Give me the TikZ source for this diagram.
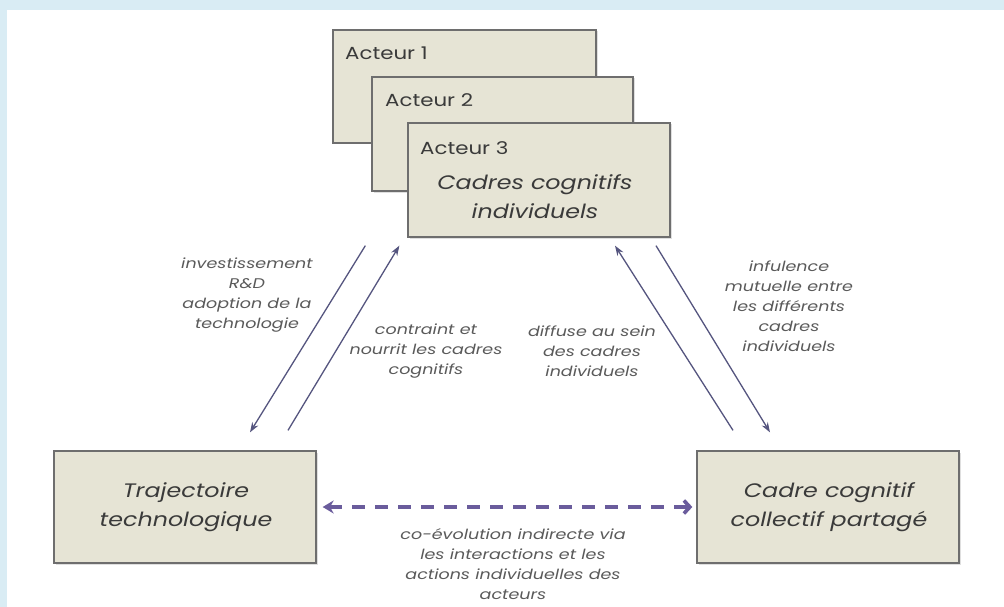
\documentclass[tikz,border=0pt]{standalone}
\usepackage{fontspec}
\setmainfont{Poppins}[FakeStretch=1.22]
\newfontfamily\lblfont{Poppins}[FakeStretch=1.25]
\usetikzlibrary{arrows.meta,calc,shadows}
\definecolor{bgblue}{HTML}{D9ECF4}
\definecolor{boxfill}{HTML}{E6E4D5}
\definecolor{boxline}{HTML}{6E6E6E}
\definecolor{txt}{HTML}{3A3A3A}
\definecolor{lbl}{HTML}{5A5A5A}
\definecolor{arrcol}{HTML}{55557F}
\definecolor{dashcol}{HTML}{6A5C9C}
\tikzset{
  box/.style={draw=boxline, line width=1.3pt, fill=boxfill, inner sep=0pt,
    drop shadow={shadow xshift=1.5pt, shadow yshift=-1.5pt, opacity=0.25}},
  boxtitle/.style={font=\fontsize{19.5}{29}\selectfont\itshape, text=txt, align=center},
  actlabel/.style={font=\fontsize{17.5}{18}\selectfont, text=txt, anchor=west, inner sep=0pt},
  lbltext/.style={font=\lblfont\fontsize{14}{20}\selectfont\itshape, text=lbl, align=center},
  thinarr/.style={draw=arrcol, line width=1.3pt, -{Stealth[length=10pt,width=7pt]}},
  dasharr/.style={draw=dashcol, line width=3.6pt, dash pattern=on 13pt off 10pt,
    {Stealth[length=11pt,width=13pt]}-{Straight Barb[length=6pt,width=13pt]}}
}
\begin{document}
\begin{tikzpicture}[x=1pt,y=-1pt]
\useasboundingbox (0,0) rectangle (1004,607);
\fill[white] (0,0) rectangle (1004,607);
\fill[bgblue] (0,0) rectangle (1004,10);
\fill[bgblue] (0,0) rectangle (7,607);

% actor boxes
\node[box, minimum width=263pt, minimum height=113pt] (a1) at (464.5,86.5) {};
\node[actlabel] (a1t) at (345,53) {Acteur 1};
\node[box, minimum width=261pt, minimum height=114pt] (a2) at (502.5,134) {};
\node[actlabel] (a2t) at (385,100) {Acteur 2};
\node[box, minimum width=262pt, minimum height=114pt] (a3) at (539,180) {};
\node[actlabel] (a3t) at (420,148) {Acteur 3};
\node[boxtitle] (a3c) at (535,197) {Cadres cognitifs\\individuels};

% bottom boxes
\node[box, minimum width=262pt, minimum height=112pt] (traj) at (185,507) {};
\node[boxtitle] (trajt) at (186,507) {Trajectoire\\technologique};
\node[box, minimum width=262pt, minimum height=112pt] (coll) at (828,507) {};
\node[boxtitle] (collt) at (829,507) {Cadre cognitif\\collectif partagé};

% arrows
\draw[thinarr] ($(a3.south west)+(-42,8)$) -- ($(traj.north)+(65,-18)$);
\draw[thinarr] ($(traj.north)+(103,-20)$) -- ($(a3.south west)+(-8,8)$);
\draw[thinarr] ($(coll.north)+(-95,-20)$) -- ($(a3.south)+(76,8)$);
\draw[thinarr] ($(a3.south)+(117,8)$) -- ($(coll.north)+(-58,-18)$);
\draw[dasharr] ($(traj.east)+(6,0)$) -- ($(coll.west)+(-4,0)$);

% labels
\node[lbltext] (l1) at (247,295) {investissement\\R\&D\\adoption de la\\technologie};
\node[lbltext] (l2) at (426,351) {contraint et\\nourrit les cadres\\cognitifs};
\node[lbltext] (l3) at (592,351) {diffuse au sein\\des cadres\\individuels};
\node[lbltext] (l4) at (789,306) {infulence\\mutuelle entre\\les différents\\cadres\\individuels};
\node[lbltext] (l5) at (513,564) {co-évolution indirecte via\\les interactions et les\\actions individuelles des\\acteurs};
\end{tikzpicture}
\end{document}
